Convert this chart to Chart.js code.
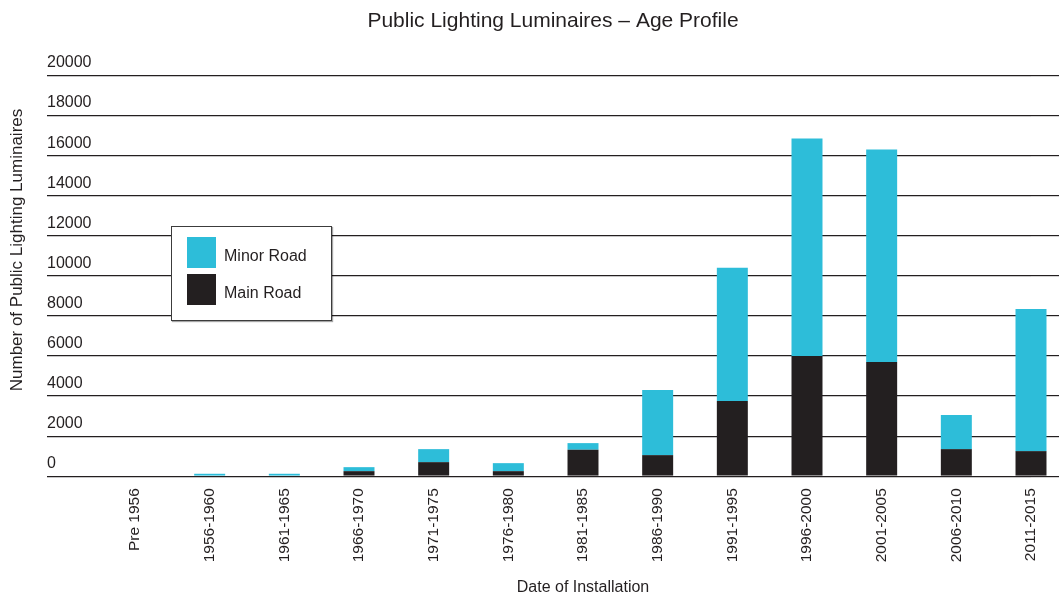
<!DOCTYPE html>
<html>
<head>
<meta charset="utf-8">
<title>Public Lighting Luminaires - Age Profile</title>
<script src="https://cdn.jsdelivr.net/npm/chart.js@4.4.1/dist/chart.umd.min.js"></script>
<style>
    body { margin: 0; background: #fff; }
    #wrap { position: relative; width: 1059px; height: 597px; }
    #ageLegend {
        position: absolute; left: 171px; top: 226px; width: 159px; height: 93px;
        background: #fff; border: 1px solid #3c3c3c; box-shadow: 1px 1px 1px rgba(0,0,0,0.35);
        font-family: "Liberation Sans", Arial, sans-serif; font-size: 16px; color: #231f20;
    }
    #ageLegend .item { position: absolute; left: 15px; height: 31px; }
    #ageLegend .box { position: absolute; left: 0; top: 0; width: 29px; height: 31px; }
    #ageLegend .txt { position: absolute; left: 37px; top: 10px; white-space: nowrap; }
</style>
</head>
<body>
<div id="wrap">
    <canvas id="barChart" width="1059" height="597"></canvas>
    <div id="ageLegend"></div>
</div>
<script>
var periods = ['Pre 1956', '1956-1960', '1961-1965', '1966-1970', '1971-1975', '1976-1980', '1981-1985',
    '1986-1990', '1991-1995', '1996-2000', '2001-2005', '2006-2010', '2011-2015'];
var mainRoad = [0, 0, 0, 250, 700, 250, 1320, 1050, 3750, 6000, 5700, 1350, 1250];
var minorRoad = [0, 120, 120, 200, 650, 400, 330, 3250, 6650, 10850, 10600, 1700, 7100];
var yTicks = [0, 2000, 4000, 6000, 8000, 10000, 12000, 14000, 16000, 18000, 20000];

var ink = '#231f20';
var cyan = '#2dbdd9';
var fontName = '"Liberation Sans", Arial, sans-serif';

// rotated y title, sits left of the tick labels
var yTitle = {
    id: 'yTitle',
    afterDraw: function (chart) {
        var ctx = chart.ctx;
        ctx.save();
        ctx.translate(17, 250);
        ctx.rotate(-Math.PI / 2);
        ctx.font = '17px ' + fontName;
        ctx.fillStyle = ink;
        ctx.textAlign = 'center';
        ctx.textBaseline = 'middle';
        ctx.fillText('Number of Public Lighting Luminaires', 0, 0);
        ctx.restore();
    }
};

var gridOpts = { color: ink, lineWidth: 1.2 };

var barChartCanvas = document.getElementById('barChart').getContext('2d');
var barChart = new Chart(barChartCanvas, {
    type: 'bar',
    data: {
        labels: periods,
        datasets: [
            { label: 'Main Road', data: mainRoad, backgroundColor: ink, clip: false },
            { label: 'Minor Road', data: minorRoad, backgroundColor: cyan, clip: false }
        ]
    },
    options: {
        responsive: false,
        animation: false,
        categoryPercentage: 1,
        barPercentage: 0.415,
        layout: { padding: { left: 47, right: 0, top: 0, bottom: 0 } },
        plugins: {
            legend: { display: false },
            tooltip: { enabled: false },
            title: {
                display: true,
                text: 'Public Lighting Luminaires \u2013 Age Profile',
                color: ink,
                font: { family: fontName, size: 21, weight: 'normal' },
                padding: { top: 8.5, bottom: 41.8 }
            }
        },
        scales: {
            x: {
                stacked: true,
                offset: false,
                // rotated end labels need no side room here
                afterFit: function (axis) { axis.paddingLeft = 0; axis.paddingRight = 0; },
                grid: { display: false, drawTicks: false },
                border: { display: false },
                ticks: {
                    color: ink, padding: 12, minRotation: 90, maxRotation: 90, autoSkip: false,
                    font: { family: fontName, size: 15.5 }
                },
                title: {
                    display: true, text: 'Date of Installation', color: ink,
                    font: { family: fontName, size: 16 }, padding: { top: 3.5, bottom: 0 }
                }
            },
            y: {
                stacked: true,
                min: 0, max: 20000,
                afterBuildTicks: function (axis) {
                    axis.ticks = yTicks.map(function (v) { return { value: v }; });
                },
                afterFit: function (axis) { axis.width = 88; },
                grid: Object.assign({ tickLength: 88 }, gridOpts),
                border: { display: false },
                ticks: {
                    color: ink, crossAlign: 'far', labelOffset: -12.5,
                    font: { family: fontName, size: 16 },
                    callback: function (value) { return String(value); }
                }
            },
            // only carries the gridline ends out to the right edge
            yEdge: {
                position: 'right',
                min: 0, max: 20000,
                afterBuildTicks: function (axis) {
                    axis.ticks = yTicks.map(function (v) { return { value: v }; });
                },
                afterFit: function (axis) { axis.width = 28; },
                grid: Object.assign({ tickLength: 28, drawOnChartArea: false }, gridOpts),
                border: { display: false },
                ticks: { display: false }
            }
        }
    },
    plugins: [yTitle]
});

// legend box, top entry is the upper stack
var legendEl = document.getElementById('ageLegend');
barChart.data.datasets.slice().reverse().forEach(function (ds, i) {
    var item = document.createElement('div');
    item.className = 'item';
    item.style.top = (10 + i * 37) + 'px';
    item.innerHTML = '<span class="box" style="background:' + ds.backgroundColor + '"></span>' +
        '<span class="txt">' + ds.label + '</span>';
    legendEl.appendChild(item);
});
</script>
</body>
</html>
